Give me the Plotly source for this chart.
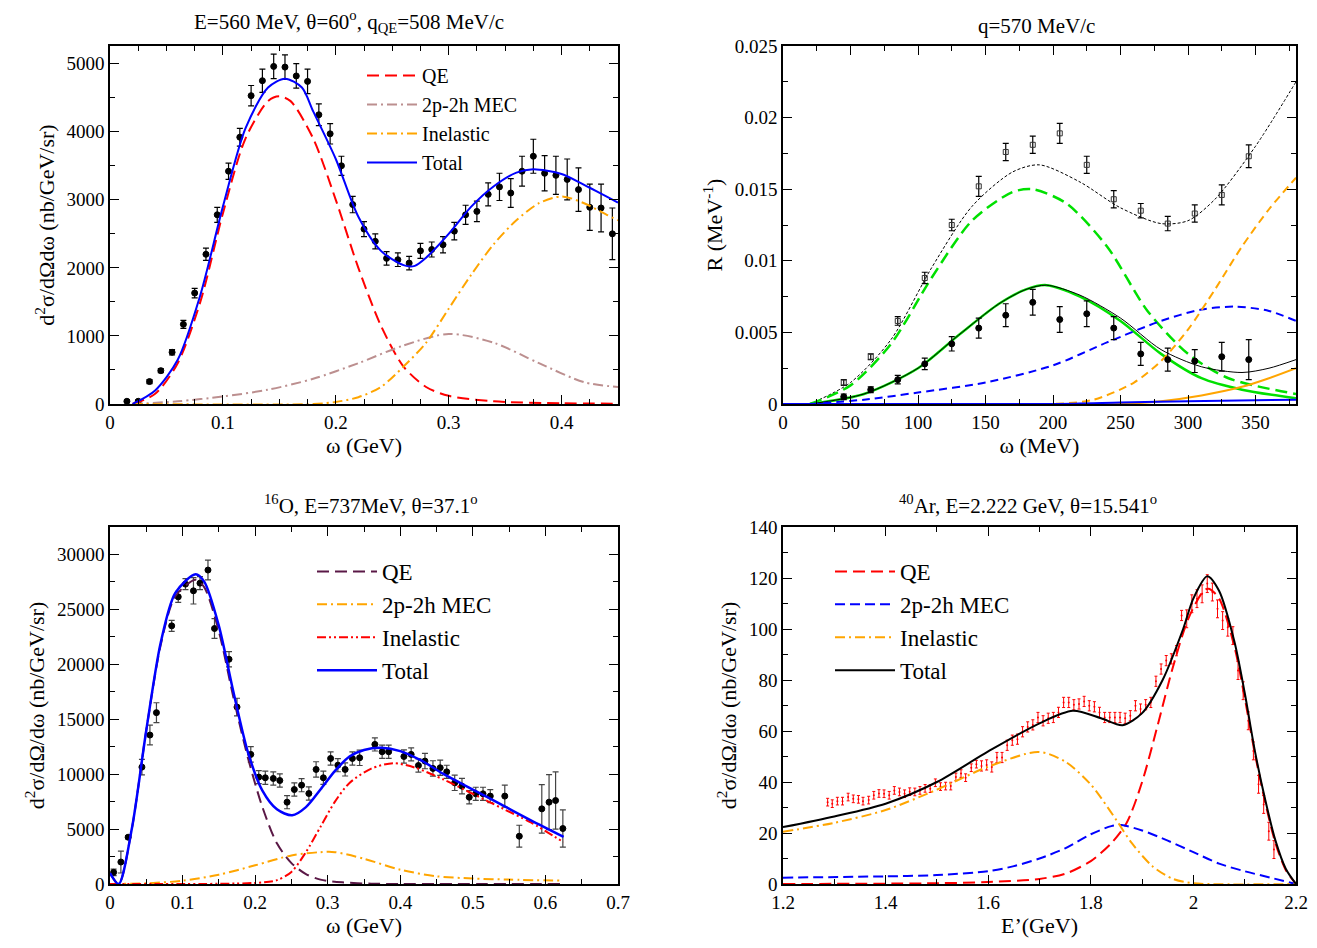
import plotly.graph_objects as go

# ---------------- panel 1 : E=560 MeV, theta=60 ----------------
p1_w = [0.015, 0.025, 0.035, 0.045, 0.055, 0.065, 0.075, 0.085, 0.095, 0.105, 0.115, 0.125, 0.135, 0.145,
        0.155, 0.165, 0.175, 0.185, 0.195, 0.205, 0.215, 0.225, 0.235, 0.245, 0.255, 0.265, 0.275, 0.285,
        0.295, 0.305, 0.315, 0.325, 0.335, 0.345, 0.355, 0.365, 0.375, 0.385, 0.395, 0.405, 0.415, 0.425,
        0.435, 0.445]
p1_xs = [40, 40, 330, 490, 760, 1170, 1630, 2200, 2780, 3420, 3920, 4530, 4750, 4960,
         4950, 4820, 4740, 4250, 3970, 3500, 2930, 2570, 2390, 2140, 2120, 2070, 2250, 2270,
         2340, 2540, 2780, 2830, 3080, 3190, 3100, 3420, 3640, 3390, 3360, 3300, 3150, 2890,
         2880, 2500]
p1_err = [20, 20, 30, 30, 40, 60, 70, 90, 110, 120, 130, 150, 170, 180,
          180, 180, 180, 160, 150, 140, 120, 110, 110, 100, 100, 100, 110, 110,
          120, 130, 140, 150, 170, 200, 210, 220, 250, 260, 280, 300, 320, 340,
          350, 380]

p1_qe_w = [0.02, 0.04, 0.06, 0.08, 0.10, 0.12, 0.14, 0.15, 0.16, 0.18, 0.20, 0.22, 0.24, 0.26, 0.28, 0.30, 0.34, 0.40, 0.45]
p1_qe = [0, 150, 600, 1500, 2800, 3900, 4450, 4520, 4450, 3900, 3000, 2000, 1150, 550, 250, 120, 40, 10, 5]
p1_mec_w = [0.02, 0.06, 0.10, 0.14, 0.18, 0.22, 0.26, 0.30, 0.34, 0.38, 0.42, 0.45]
p1_mec = [0, 40, 110, 210, 370, 600, 860, 1030, 900, 600, 320, 250]
p1_inel_w = [0.02, 0.18, 0.20, 0.22, 0.24, 0.26, 0.28, 0.30, 0.32, 0.34, 0.36, 0.38, 0.40, 0.42, 0.44, 0.45]
p1_inel = [0, 0, 30, 100, 250, 550, 900, 1400, 1900, 2350, 2700, 2950, 3050, 2950, 2780, 2700]
p1_tot_w = [0.02, 0.04, 0.06, 0.08, 0.10, 0.12, 0.14, 0.155, 0.17, 0.18, 0.20, 0.22, 0.24, 0.26, 0.27, 0.28,
            0.30, 0.32, 0.34, 0.36, 0.375, 0.40, 0.42, 0.45]
p1_tot = [0, 200, 650, 1600, 2900, 4050, 4650, 4780, 4650, 4300, 3600, 2750, 2250, 2040, 2030, 2150,
          2500, 2900, 3200, 3400, 3450, 3380, 3220, 2960]

# ---------------- panel 2 : q=570 MeV/c ----------------
p2_w = [45, 65, 85, 105, 125, 145, 165, 185, 205, 225, 245, 265, 285, 305, 325, 345]
p2_open = [0.0015, 0.0033, 0.0058, 0.0088, 0.0125, 0.0152, 0.0176, 0.0181, 0.0189, 0.0167, 0.0143,
           0.0135, 0.0126, 0.0133, 0.0146, 0.0173]
p2_open_err = [0.0002, 0.0002, 0.0003, 0.0004, 0.0004, 0.0007, 0.0006, 0.0006, 0.0007, 0.0006, 0.0006,
               0.0005, 0.0005, 0.0006, 0.0007, 0.0008]
p2_full = [0.0005, 0.0010, 0.0017, 0.0028, 0.0042, 0.0053, 0.0062, 0.0071, 0.0059, 0.0063, 0.0053,
           0.0035, 0.0031, 0.0030, 0.0033, 0.0031]
p2_full_err = [0.0002, 0.0002, 0.0003, 0.0004, 0.0005, 0.0007, 0.0008, 0.0009, 0.0009, 0.0009, 0.0008,
               0.0008, 0.0008, 0.0008, 0.0010, 0.0014]

p2_tl_w = [20, 50, 80, 110, 140, 170, 190, 220, 250, 280, 300, 320, 350, 380]
p2_tl = [0, 0.0015, 0.0045, 0.0095, 0.0138, 0.0162, 0.0167, 0.0155, 0.0137, 0.0126, 0.0128, 0.0143, 0.0180, 0.0225]
p2_gl_w = [20, 50, 80, 110, 140, 170, 185, 210, 240, 270, 300, 330, 380]
p2_gl = [0, 0.0013, 0.0042, 0.0088, 0.0128, 0.0148, 0.0150, 0.0140, 0.0110, 0.0065, 0.0035, 0.0018, 0.0007]
p2_gs_w = [20, 60, 100, 130, 160, 180, 195, 220, 250, 280, 310, 340, 380]
p2_gs = [0, 0.0007, 0.0025, 0.0048, 0.0070, 0.0080, 0.0083, 0.0075, 0.0058, 0.0035, 0.0018, 0.0010, 0.0004]
p2_ts_w = [20, 60, 100, 130, 160, 180, 195, 220, 250, 280, 310, 340, 360, 380]
p2_ts = [0, 0.0007, 0.0025, 0.0048, 0.0070, 0.0080, 0.0083, 0.0076, 0.0060, 0.0038, 0.0026, 0.0022, 0.0025, 0.0031]
p2_bl_w = [20, 60, 100, 150, 200, 240, 280, 310, 335, 360, 380]
p2_bl = [0, 0.0003, 0.0008, 0.0015, 0.0027, 0.0043, 0.0058, 0.0066, 0.0068, 0.0065, 0.0058]
p2_ol_w = [0, 200, 230, 260, 280, 300, 320, 340, 360, 380]
p2_ol = [0, 0, 0.0003, 0.0015, 0.0030, 0.0052, 0.0080, 0.0110, 0.0136, 0.0158]
p2_os_w = [0, 250, 280, 310, 340, 360, 380]
p2_os = [0, 0, 0.0002, 0.0006, 0.0012, 0.0018, 0.0025]
p2_bs_w = [0, 200, 250, 300, 380]
p2_bs = [0, 0, 0.0001, 0.0002, 0.0003]

# ---------------- panel 3 : 16O, E=737 MeV ----------------
p3_w = [0.005, 0.015, 0.025, 0.044, 0.055, 0.064, 0.085, 0.094, 0.104, 0.115, 0.124, 0.135, 0.144, 0.164,
        0.175, 0.194, 0.205, 0.214, 0.225, 0.234, 0.244, 0.254, 0.264, 0.274, 0.284, 0.294, 0.304, 0.314,
        0.324, 0.334, 0.344, 0.365, 0.375, 0.384, 0.405, 0.415, 0.425, 0.434, 0.445, 0.455, 0.464, 0.475,
        0.485, 0.495, 0.504, 0.514, 0.524, 0.544, 0.564, 0.595, 0.605, 0.614, 0.624]
p3_xs = [1060, 2000, 4260, 10640, 13560, 15600, 23500, 26140, 27300, 26690, 27390, 28580, 23260, 20460,
         16110, 11800, 9730, 9670, 9610, 9420, 7450, 8600, 9000, 8240, 10430, 9670, 11430, 10820,
         10430, 11430, 11490, 12710, 12040, 12040, 11610, 11800, 10790, 11190, 10520, 10580, 10210, 9210,
         8910, 7900, 8210, 8210, 8000, 8000, 4350, 6840, 7450, 7600, 5050]
p3_err = [300, 1000, 150, 700, 900, 900, 500, 500, 500, 1200, 600, 900, 900, 700,
          800, 700, 600, 600, 600, 600, 600, 600, 600, 600, 700, 600, 600, 600,
          600, 600, 700, 600, 600, 600, 600, 600, 600, 700, 700, 700, 600, 700,
          700, 600, 600, 600, 600, 1000, 1000, 2200, 2500, 2600, 1700]

p3_tot_w = [0.0, 0.012, 0.03, 0.05, 0.07, 0.09, 0.118, 0.13, 0.15, 0.17, 0.19, 0.21, 0.23, 0.251, 0.27,
            0.29, 0.31, 0.33, 0.35, 0.374, 0.40, 0.43, 0.46, 0.50, 0.54, 0.58, 0.625]
p3_tot = [1000, 0, 5000, 14000, 22000, 26500, 28200, 27500, 23500, 17500, 12000, 8500, 6800, 6250, 7000,
          8600, 10300, 11600, 12200, 12400, 12100, 11200, 10000, 8600, 7200, 5800, 4300]
p3_qe_w = [0.0, 0.012, 0.03, 0.05, 0.07, 0.09, 0.118, 0.13, 0.15, 0.17, 0.19, 0.21, 0.23, 0.25, 0.27,
           0.29, 0.32, 0.36, 0.40, 0.625]
p3_qe = [1000, 0, 5000, 14000, 21800, 26200, 27700, 27000, 23000, 17000, 11500, 7000, 3700, 1900, 900,
         400, 150, 30, 0, 0]
p3_mec_w = [0.0, 0.05, 0.10, 0.15, 0.20, 0.25, 0.29, 0.31, 0.35, 0.40, 0.45, 0.50, 0.55, 0.625]
p3_mec = [0, 60, 300, 850, 1700, 2600, 2900, 2900, 2300, 1300, 700, 500, 400, 300]
p3_inel_w = [0.0, 0.20, 0.23, 0.25, 0.27, 0.29, 0.31, 0.33, 0.36, 0.39, 0.42, 0.46, 0.50, 0.54, 0.58, 0.625]
p3_inel = [0, 100, 350, 1100, 2900, 5200, 7500, 9200, 10500, 11000, 10600, 9500, 8200, 6900, 5600, 3800]

# ---------------- panel 4 : 40Ar, E=2.222 GeV ----------------
p4_e = [1.287, 1.296, 1.306, 1.316, 1.327, 1.337, 1.347, 1.356, 1.367, 1.377, 1.387, 1.397, 1.407, 1.417,
        1.427, 1.437, 1.447, 1.457, 1.467, 1.477, 1.487, 1.497, 1.507, 1.517, 1.527, 1.537, 1.547, 1.556,
        1.567, 1.577, 1.587, 1.597, 1.607, 1.617, 1.627, 1.637, 1.647, 1.657, 1.667, 1.677, 1.687, 1.697,
        1.707, 1.717, 1.727, 1.737, 1.747, 1.757, 1.767, 1.777, 1.787, 1.797, 1.807, 1.817, 1.827, 1.837,
        1.847, 1.857, 1.867, 1.877, 1.887, 1.897, 1.907, 1.917, 1.927, 1.937, 1.947, 1.957, 1.967, 1.977,
        1.987, 1.997, 2.007, 2.017, 2.027, 2.037, 2.047, 2.057, 2.067, 2.077, 2.087, 2.097, 2.107, 2.117,
        2.127, 2.137, 2.147, 2.157]
p4_xs = [32.1, 31.5, 32.5, 32.5, 34.1, 33.4, 33.2, 32.5, 32.9, 34.8, 35.5, 35.4, 34.8, 36.7,
         36.1, 35.4, 36.2, 36.1, 36.7, 37.5, 37.4, 39.7, 38.2, 38.4, 38.4, 42.0, 43.3, 41.7,
         45.6, 47.0, 46.3, 46.7, 45.9, 49.6, 49.6, 54.4, 56.4, 56.8, 59.7, 61.6, 62.4, 65.3,
         64.0, 65.0, 65.3, 67.3, 71.2, 71.2, 70.3, 70.6, 71.6, 69.9, 69.5, 67.3, 65.3, 65.3,
         65.3, 65.3, 65.0, 66.0, 69.9, 68.6, 70.3, 71.2, 79.5, 84.3, 87.6, 88.3, 91.5, 105.3,
         104.0, 109.9, 111.9, 113.8, 117.8, 114.5, 107.9, 103.3, 100.7, 97.4, 83.7, 75.8, 64.0, 52.2,
         39.1, 31.2, 20.7, 13.5]
p4_err = [1.5] * 30 + [2.0] * 40 + [3.5] * 18

p4_tot_e = [1.2, 1.3, 1.4, 1.5, 1.6, 1.7, 1.765, 1.82, 1.862, 1.9, 1.94, 1.98, 2.0, 2.027, 2.05, 2.08,
            2.1, 2.12, 2.14, 2.16, 2.18, 2.2]
p4_tot = [22.3, 26.5, 31.5, 40, 52, 63, 67.9, 65, 62.3, 67, 80, 100, 112, 120.7, 115, 95,
          75, 52, 33, 17, 6, 0]
p4_qe_e = [1.2, 1.5, 1.6, 1.7, 1.75, 1.8, 1.84, 1.87, 1.9, 1.93, 1.96, 1.99, 2.02, 2.03, 2.05, 2.08,
           2.1, 2.12, 2.14, 2.16, 2.18, 2.2]
p4_qe = [0, 0.3, 0.8, 2, 4, 9, 16, 24, 40, 62, 85, 104, 115, 115.8, 112, 93, 73, 51, 32, 16, 5.5, 0]
p4_mec_e = [1.2, 1.4, 1.5, 1.6, 1.65, 1.7, 1.75, 1.8, 1.84, 1.86, 1.9, 1.95, 2.0, 2.05, 2.1, 2.15, 2.2]
p4_mec = [2.5, 3, 3.5, 5, 7, 10, 14, 19.5, 22.7, 23.1, 21, 17, 12.5, 8, 5, 2.5, 0]
p4_inel_e = [1.2, 1.3, 1.4, 1.5, 1.6, 1.698, 1.75, 1.8, 1.85, 1.88, 1.92, 1.96, 2.0, 2.2]
p4_inel = [20.5, 24, 29, 37, 46, 51.8, 48, 39, 25, 16, 7, 2, 0.3, 0]

FONT = "Liberation Serif, Times New Roman, DejaVu Serif, serif"
fig = go.Figure()


def curve(x, y, xa, ya, color, dash="solid", width=2, name=None, legend=None):
    fig.add_trace(go.Scatter(
        x=x, y=y, mode="lines", xaxis=xa, yaxis=ya,
        line=dict(color=color, dash=dash, width=width, shape="spline", smoothing=0.8),
        name=name, showlegend=name is not None, legend=legend,
    ))


def points(x, y, err, xa, ya, symbol="circle", color="black", size=6, ecolor="black", ewidth=1.2):
    fig.add_trace(go.Scatter(
        x=x, y=y, mode="markers", xaxis=xa, yaxis=ya, showlegend=False,
        marker=dict(symbol=symbol, color=color, size=size, line=dict(color=color, width=1)),
        error_y=dict(type="data", array=err, color=ecolor, thickness=ewidth, width=3),
    ))


# panel 1
points(p1_w, p1_xs, p1_err, "x", "y")
curve(p1_qe_w, p1_qe, "x", "y", "#ff0000", "12px,6px", name="QE", legend="legend")
curve(p1_mec_w, p1_mec, "x", "y", "#bc8f8f", "10px,4px,2px,4px", name="2p-2h MEC", legend="legend")
curve(p1_inel_w, p1_inel, "x", "y", "#ffa500", "10px,4px,2px,4px", name="Inelastic", legend="legend")
curve(p1_tot_w, p1_tot, "x", "y", "#0000ff", name="Total", legend="legend")

# panel 2
curve(p2_tl_w, p2_tl, "x2", "y2", "black", "3px,2px", width=1)
curve(p2_gl_w, p2_gl, "x2", "y2", "#00e000", "12px,6px", width=2.5)
curve(p2_gs_w, p2_gs, "x2", "y2", "#00e000", width=2.5)
curve(p2_ts_w, p2_ts, "x2", "y2", "black", width=1)
curve(p2_bl_w, p2_bl, "x2", "y2", "#0000ff", "8px,5px", width=2)
curve(p2_ol_w, p2_ol, "x2", "y2", "#ffa500", "8px,5px", width=2)
curve(p2_os_w, p2_os, "x2", "y2", "#ffa500", width=2)
curve(p2_bs_w, p2_bs, "x2", "y2", "#0000ff", width=2)
points(p2_w, p2_open, p2_open_err, "x2", "y2", symbol="square-open", color="#333333", size=5)
points(p2_w, p2_full, p2_full_err, "x2", "y2", size=6)

# panel 3
points(p3_w, p3_xs, p3_err, "x3", "y3", ecolor="#444444")
curve(p3_qe_w, p3_qe, "x3", "y3", "#5a1846", "12px,6px", name="QE", legend="legend2")
curve(p3_mec_w, p3_mec, "x3", "y3", "#ffa500", "10px,4px,2px,4px", name="2p-2h MEC", legend="legend2")
curve(p3_inel_w, p3_inel, "x3", "y3", "#ff0000", "9px,3px,2px,3px,2px,3px", name="Inelastic", legend="legend2")
curve(p3_tot_w, p3_tot, "x3", "y3", "#0000ff", width=2.5, name="Total", legend="legend2")

# panel 4
fig.add_trace(go.Scatter(
    x=p4_e, y=p4_xs, mode="markers", xaxis="x4", yaxis="y4", showlegend=False,
    marker=dict(color="#ff0000", size=2),
    error_y=dict(type="data", array=p4_err, color="#ff0000", thickness=1, width=1.5),
))
curve(p4_qe_e, p4_qe, "x4", "y4", "#ff0000", "12px,6px", name="QE", legend="legend3")
curve(p4_mec_e, p4_mec, "x4", "y4", "#0000ff", "10px,5px", name="2p-2h MEC", legend="legend3")
curve(p4_inel_e, p4_inel, "x4", "y4", "#ffa500", "10px,4px,2px,4px", name="Inelastic", legend="legend3")
curve(p4_tot_e, p4_tot, "x4", "y4", "black", name="Total", legend="legend3")

# page body adds an 8px offset, so lay things out in a slightly smaller canvas
OFF = 8
W, H = 1300, 932


def px(x):
    return (x - OFF) / W


def py(y):
    return 1 - (y - OFF) / H


dx_l = [px(110), px(618)]
dx_r = [px(783), px(1296)]
dy_t = [py(404), py(46)]
dy_b = [py(884), py(527)]


def ax(domain, rng, dtick, minor, title, anchor, standoff=6):
    return dict(
        domain=domain, range=rng, dtick=dtick, anchor=anchor, automargin=False,
        showgrid=False, zeroline=False, showline=True, linecolor="black", linewidth=1.5,
        mirror="allticks", ticks="inside", ticklen=9, tickcolor="black",
        minor=dict(dtick=minor, ticks="inside", ticklen=5, tickcolor="black"),
        tickfont=dict(family=FONT, size=19, color="black"),
        title=dict(text=title, font=dict(family=FONT, size=22, color="black"), standoff=standoff),
    )


leg_font = dict(family=FONT, size=23, color="black")
fig.update_layout(
    width=W, height=H, plot_bgcolor="white", paper_bgcolor="white",
    margin=dict(l=0, r=0, t=0, b=0),
    xaxis=ax(dx_l, [0, 0.45], 0.1, 0.025, "ω (GeV)", "y"),
    yaxis=ax(dy_t, [0, 5260], 1000, 500, "d<sup>2</sup>σ/dΩdω (nb/GeV/sr)", "x"),
    xaxis2=ax(dx_r, [0, 380], 50, 25, "ω (MeV)", "y2"),
    yaxis2=ax(dy_t, [0, 0.025], 0.005, 0.0025, "R (MeV<sup>-1</sup>)", "x2"),
    xaxis3=ax(dx_l, [0, 0.7], 0.1, 0.05, "ω (GeV)", "y3"),
    yaxis3=ax(dy_b, [0, 32500], 5000, 2500, "d<sup>2</sup>σ/dΩ/dω (nb/GeV/sr)", "x3"),
    xaxis4=ax(dx_r, [1.2, 2.2], 0.2, 0.1, "E’(GeV)", "y4"),
    yaxis4=ax(dy_b, [0, 140], 20, 10, "d<sup>2</sup>σ/dΩ/dω (nb/GeV/sr)", "x4"),
    legend=dict(x=px(362), y=py(56), xanchor="left", yanchor="top", bgcolor="rgba(0,0,0,0)",
                font=dict(family=FONT, size=20, color="black"), tracegroupgap=0, itemwidth=50),
    legend2=dict(x=px(312), y=py(550), xanchor="left", yanchor="top", bgcolor="rgba(0,0,0,0)",
                 font=leg_font, itemwidth=60),
    legend3=dict(x=px(830), y=py(550), xanchor="left", yanchor="top", bgcolor="rgba(0,0,0,0)",
                 font=leg_font, itemwidth=60),
)
fig.update_layout(yaxis=dict(tickformat="d"), yaxis3=dict(tickformat="d"))

titles = [
    (349, 22, "E=560 MeV, θ=60<sup>o</sup>, q<sub>QE</sub>=508 MeV/c"),
    (1036, 26, "q=570 MeV/c"),
    (370, 505, "<sup>16</sup>O, E=737MeV, θ=37.1<sup>o</sup>"),
    (1028, 505, "<sup>40</sup>Ar, E=2.222 GeV, θ=15.541<sup>o</sup>"),
]
for x, y, t in titles:
    fig.add_annotation(x=px(x), y=py(y), xref="paper", yref="paper", text=t, showarrow=False,
                       xanchor="center", yanchor="middle",
                       font=dict(family=FONT, size=21, color="black"))

fig.write_html("out.html")
